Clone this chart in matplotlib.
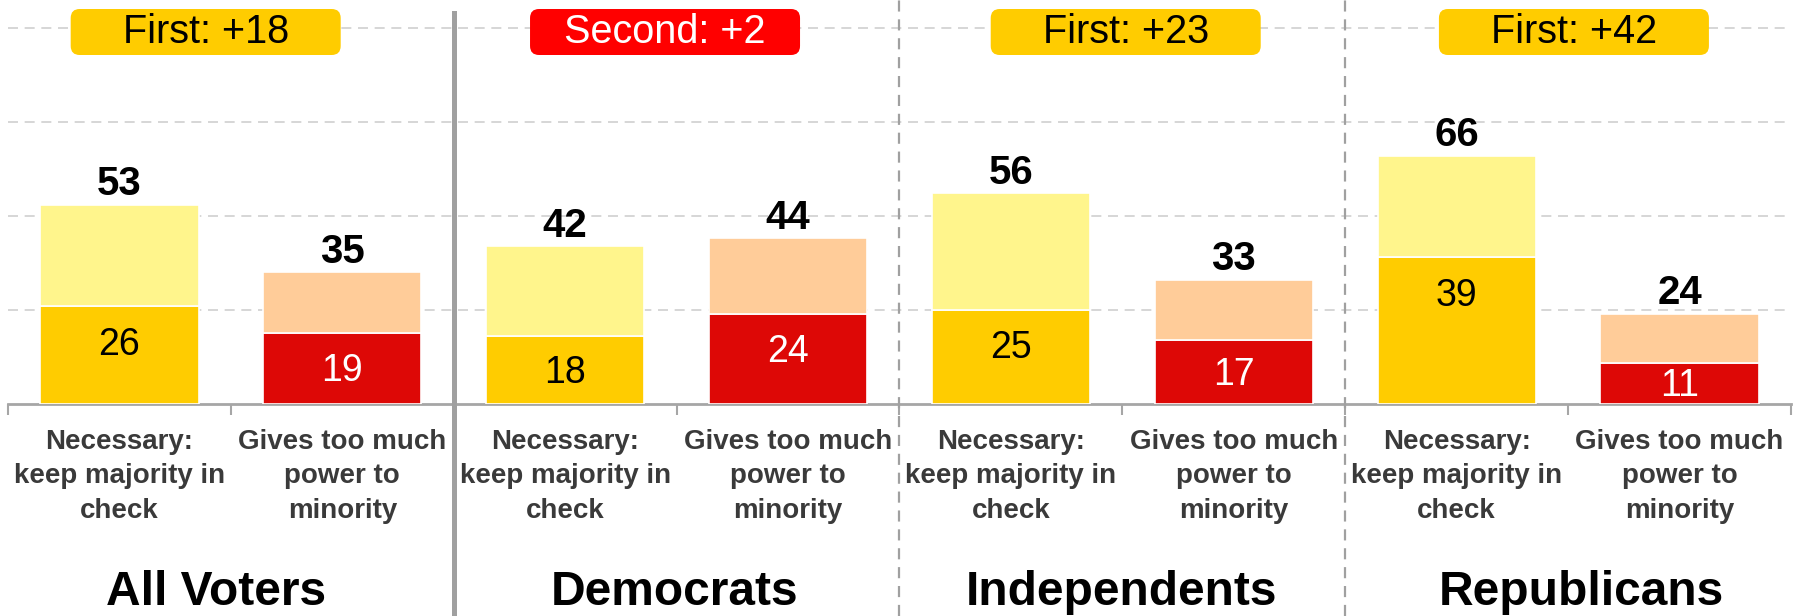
import matplotlib
matplotlib.use("Agg")
import matplotlib.pyplot as plt
from matplotlib.patches import FancyBboxPatch
from matplotlib.lines import Line2D

plt.rcParams['font.family'] = ['Liberation Sans', 'DejaVu Sans']

groups = ["All Voters", "Democrats", "Independents", "Republicans"]
categories = ["Necessary:\nkeep majority in\ncheck", "Gives too much\npower to\nminority"]
totals = [53, 35, 42, 44, 56, 33, 66, 24]
strong = [26, 19, 18, 24, 25, 17, 39, 11]
badges = ["First: +18", "Second: +2", "First: +23", "First: +42"]
badge_kind = ["first", "second", "first", "first"]

C_NEC_STRONG = "#FFCC00"
C_NEC_TOTAL = "#FFF58C"
C_MIN_STRONG = "#DD0806"
C_MIN_TOTAL = "#FFCC99"
C_BADGE = {"first": "#FFCC00", "second": "#FF0000"}
C_BADGE_TXT = {"first": "black", "second": "white"}

W, H = 1799, 616
fig = plt.figure(figsize=(W / 100, H / 100), dpi=100)
ax = fig.add_axes([8 / W, 1 - 404 / H, (1791 - 8) / W, 404 / H])
YMAX = 107.4
ax.set_xlim(-0.5, 7.5)
ax.set_ylim(0, YMAX)

xs = list(range(len(totals)))
bw = 0.71
for i in xs:
    nec = (i % 2 == 0)
    cs = C_NEC_STRONG if nec else C_MIN_STRONG
    ct = C_NEC_TOTAL if nec else C_MIN_TOTAL
    ax.bar(i, strong[i], width=bw, color=cs, edgecolor="white", linewidth=1.2, zorder=3)
    ax.bar(i, totals[i] - strong[i], bottom=strong[i], width=bw, color=ct,
           edgecolor="white", linewidth=1.2, zorder=3)
    ax.annotate(str(totals[i]), (i, totals[i]), xytext=(0, 1), textcoords="offset points",
                ha="center", va="bottom", fontsize=29, fontweight="bold", color="black", zorder=5)
    ycen = max(strong[i] - 10.2, strong[i] / 2 - 0.7)
    ax.text(i, ycen, str(strong[i]), ha="center", va="center", fontsize=27,
            color="black" if nec else "white", zorder=5)

# grid
for g in [25, 50, 75, 100]:
    ax.axhline(g, color="#CFCFCF", lw=1.2, ls=(0, (6, 4)), zorder=1)

# spines / ticks
for s in ["left", "right", "top"]:
    ax.spines[s].set_visible(False)
ax.spines["bottom"].set_color("#A6A6A6")
ax.spines["bottom"].set_linewidth(2)
ax.set_yticks([])
ax.set_xticks([])
ax.set_xticks([x - 0.5 for x in range(9)], minor=True)
ax.tick_params(axis="x", which="minor", length=8, width=1.5, color="#A6A6A6", labelbottom=False)

# category labels
for i in xs:
    ax.text(i, -6.6, categories[i % 2], ha="center", va="top", fontsize=20,
            fontweight="bold", color="#3A3A3A", linespacing=1.42, transform=ax.transData,
            clip_on=False)

# group labels
group_centers_px = [216, 675, 1122, 1581]
for gi, name in enumerate(groups):
    fig.text(group_centers_px[gi] / W, 11 / H, name, ha="center", va="baseline",
             fontsize=34.5, fontweight="bold", color="black")

# separators
for gi, sx in enumerate([1.5, 3.5, 5.5]):
    xf = ax.transData.transform((sx, 0))[0] / W
    if gi == 0:
        fig.add_artist(Line2D([xf, xf], [0, 1 - 13 / H], color="#A0A0A0", lw=3.6,
                              transform=fig.transFigure, zorder=6))
    else:
        fig.add_artist(Line2D([xf, xf], [0, 1], color="#A0A0A0", lw=1.6,
                              ls=(0, (5, 3.5)), transform=fig.transFigure, zorder=6))

# badges
badge_centers = [0.387, 2.448, 4.515, 6.526]
bw_px, bh_px, r_px = 270, 46, 9
for gi, txt in enumerate(badges):
    cx_px = ax.transData.transform((badge_centers[gi], 0))[0]
    cy_px = H - 32
    x0 = (cx_px - bw_px / 2) / W
    y0 = (cy_px - bh_px / 2) / H
    p = FancyBboxPatch((x0, y0), bw_px / W, bh_px / H,
                       boxstyle="round,pad=0,rounding_size=%f" % (r_px / W),
                       mutation_aspect=W / H, transform=fig.transFigure,
                       facecolor=C_BADGE[badge_kind[gi]], edgecolor="none", zorder=7)
    fig.add_artist(p)
    fig.text(cx_px / W, cy_px / H, txt, ha="center", va="center", fontsize=28.5,
             color=C_BADGE_TXT[badge_kind[gi]], zorder=8)

fig.savefig("out.png", dpi=100)
